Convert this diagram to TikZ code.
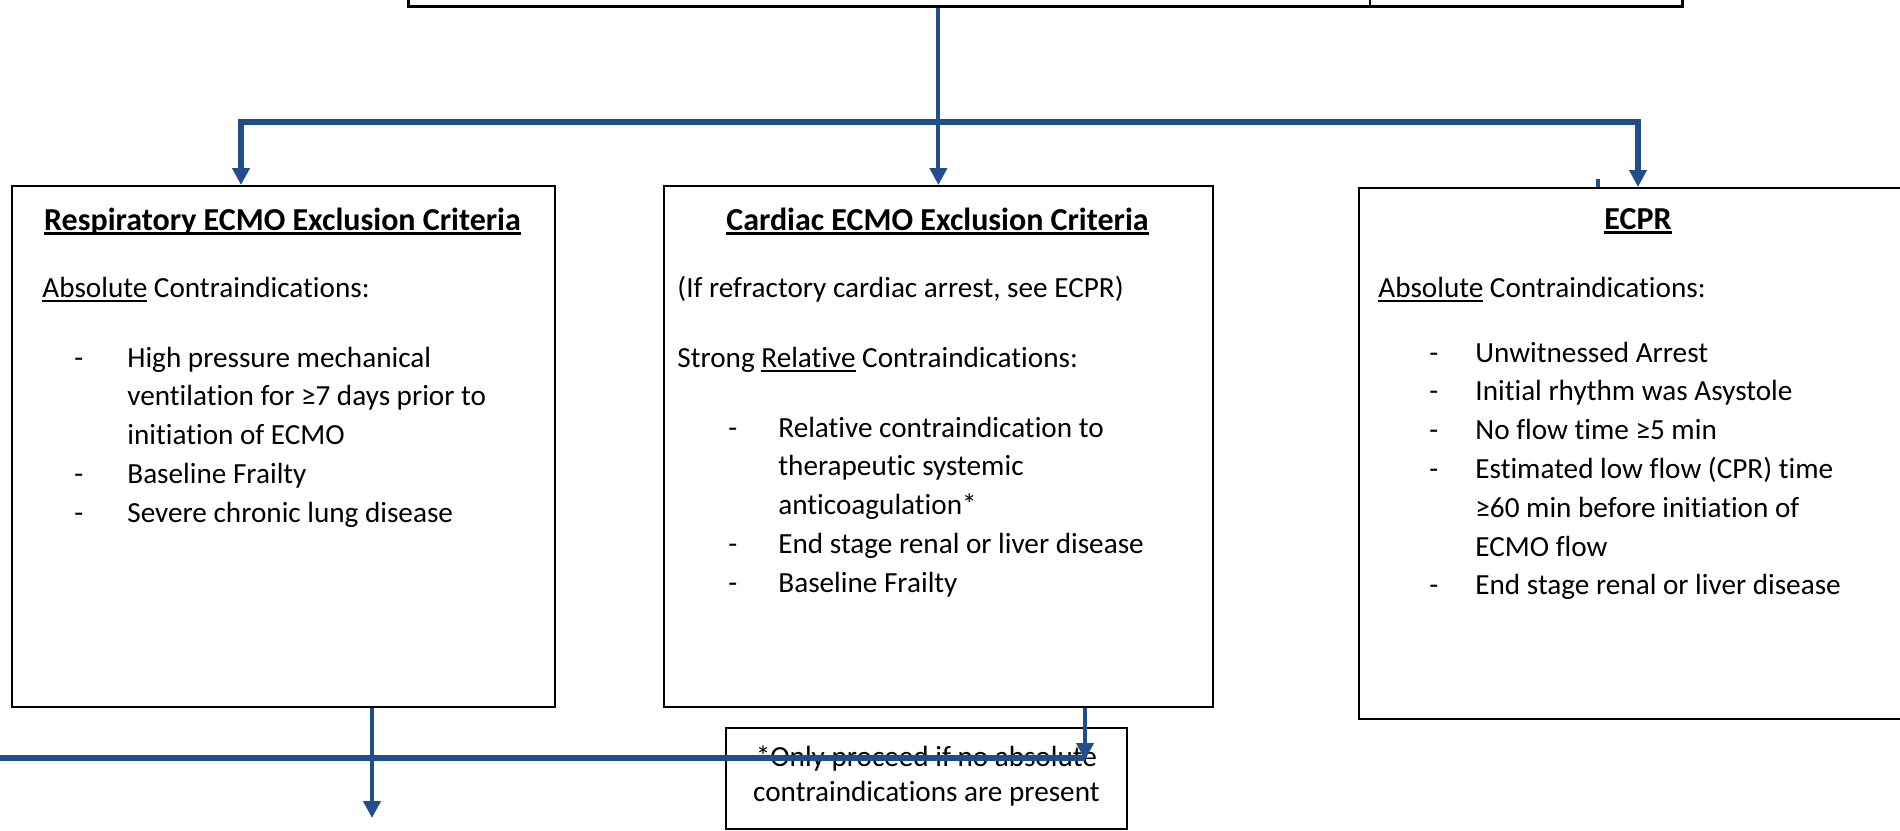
\documentclass[tikz,border=0pt]{standalone}
\usepackage{fontspec}
\setmainfont{Carlito}[Ligatures=NoCommon]
\usetikzlibrary{arrows.meta,calc}
\definecolor{flowblue}{RGB}{32,78,138}
\newsavebox{\ulbox}
\newcommand{\ulword}[2][0.8pt]{\sbox{\ulbox}{#2}\rlap{\rule[-2.4pt]{\wd\ulbox}{#1}}\usebox{\ulbox}}
\newcommand{\bodyfont}{\fontsize{14.6}{19.4}\selectfont}
\newcommand{\headfont}{\fontsize{16}{19.4}\selectfont\bfseries}

\begin{document}
\begin{tikzpicture}[x=0.5pt, y=-0.5pt,
  font=\bodyfont,
  box/.style={draw, line width=0.9pt, inner sep=0pt, anchor=north west},
  txt/.style={inner sep=0pt, anchor=base west},
  head/.style={inner sep=0pt, anchor=base, font=\headfont},
  link/.style={draw=flowblue, line width=2pt},
  bus/.style={draw=flowblue, line width=2.6pt},
  >={Triangle[width=8.5pt,length=8.5pt]}]
\useasboundingbox (0,0) rectangle (1900,830);

% boxes
\node[box, anchor=south west, minimum width=637pt, minimum height=30pt, line width=1.3pt] (top) at (407,8) {};
\draw[line width=0.6pt] (1370,8) -- (1370,-60);
\node[box, minimum width=271.5pt, minimum height=260.5pt] (resp) at (11,185) {};
\node[box, minimum width=274.5pt, minimum height=260.5pt] (card) at (663,185) {};
\node[box, minimum width=276pt, minimum height=265.5pt] (ecpr) at (1358,187) {};
\node[box, minimum width=200.5pt, minimum height=50.5pt, align=center,
  font=\fontsize{14.6}{17.5}\selectfont, text depth=5pt] (note) at (725,727)
  {*Only proceed if no absolute\\contraindications are present};

% respiratory
\node[head] (rhead) at (282.5,230) {\ulword[1.2pt]{Respiratory ECMO Exclusion Criteria}};
\node[txt] (rabs) at (42,297) {\ulword{Absolute} Contraindications:};
\node[txt] (rlist) at (74,367) {\begin{tabular}[t]{@{}p{26.5pt}@{}l@{}}
- & High pressure mechanical\\
  & ventilation for ≥7 days prior to\\
  & initiation of ECMO\\
- & Baseline Frailty\\
- & Severe chronic lung disease
\end{tabular}};

% cardiac
\node[head] (chead) at (937.5,230) {\ulword[1.2pt]{Cardiac ECMO Exclusion Criteria}};
\node[txt] (cref) at (677,297) {(If refractory cardiac arrest, see ECPR)};
\node[txt] (crel) at (677,367) {Strong \ulword{Relative} Contraindications:};
\node[txt] (clist) at (728,437) {\begin{tabular}[t]{@{}p{25pt}@{}l@{}}
- & Relative contraindication to\\
  & therapeutic systemic\\
  & anticoagulation*\\
- & End stage renal or liver disease\\
- & Baseline Frailty
\end{tabular}};

% ecpr
\node[head] (ehead) at (1638,229) {\ulword[1.2pt]{ECPR}};
\node[txt] (eabs) at (1378,297) {\ulword{Absolute} Contraindications:};
\node[txt] (elist) at (1429,362) {\begin{tabular}[t]{@{}p{23pt}@{}l@{}}
- & Unwitnessed Arrest\\
- & Initial rhythm was Asystole\\
- & No flow time ≥5 min\\
- & Estimated low flow (CPR) time\\
  & ≥60 min before initiation of\\
  & ECMO flow\\
- & End stage renal or liver disease
\end{tabular}};

% connectors
\coordinate (busL) at (241,122);
\coordinate (busR) at (1638,122);
\coordinate (tick) at (1598,179);
\coordinate (lowL) at (0,758);
\coordinate (rend) at (372,818);
\coordinate (cend) at (1085,760);
\draw[link,->] (card.north |- top.south) -- (card.north);
\draw[bus,<->, line join=miter] (busL |- resp.north) -- (busL) -- (busR) -- (busR |- ecpr.north);
\draw[link] (tick) -- (tick |- ecpr.north);
\draw[bus] (lowL) -- (lowL -| cend);
\draw[link,->] (rend |- resp.south) -- (rend);
\draw[link,->] (cend |- card.south) -- (cend);
\end{tikzpicture}
\end{document}
